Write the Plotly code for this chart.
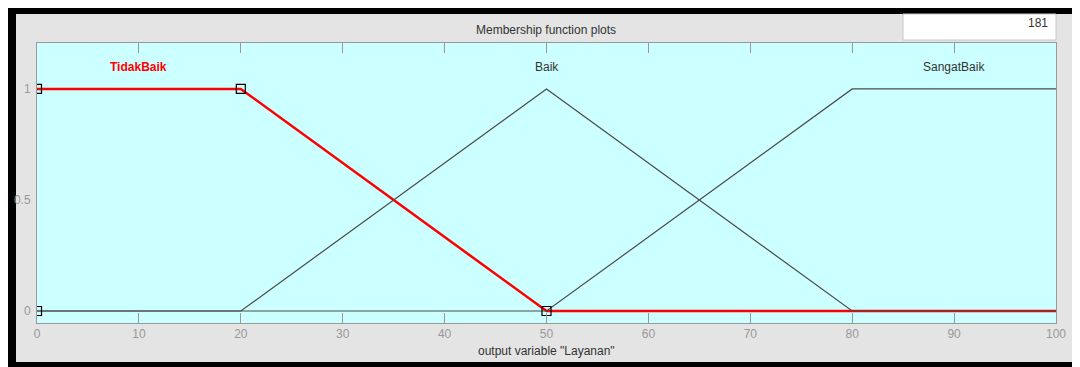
import plotly.graph_objects as go

# --- data ---
x_tidak = [0, 20, 50, 100]
y_tidak = [1, 1, 0, 0]
x_baik = [0, 20, 50, 80, 100]
y_baik = [0, 0, 1, 0, 0]
x_sangat = [0, 50, 80, 100]
y_sangat = [0, 0, 1, 1]
x_handles = [0, 0, 20, 50]
y_handles = [0, 1, 1, 0]
mf_names = ["TidakBaik", "Baik", "SangatBaik"]
mf_label_x = [10, 50, 90]
x_ticks = [0, 10, 20, 30, 40, 50, 60, 70, 80, 90, 100]
y_ticks = [0, 0.5, 1]
y_tick_text = ["0", "0.5", "1"]
plot_points = "181"

# page body has an 8px margin, so the figure is drawn 8px in from the corner
O = 8
W, H = 1080 - O, 367 - O
L, R, T, B = 37, 1056, 43, 323   # plot area in screen pixels

def px(x):
    return (x - L) / (R - L)

def py(y):
    return (B - y) / (B - T)

fig = go.Figure()

fig.add_trace(go.Scatter(x=x_tidak, y=y_tidak, mode="lines",
                         line=dict(color="#ff0000", width=2.5), hoverinfo="skip"))
fig.add_trace(go.Scatter(x=x_baik, y=y_baik, mode="lines",
                         line=dict(color="#4a4a4a", width=1.2), hoverinfo="skip"))
fig.add_trace(go.Scatter(x=x_sangat, y=y_sangat, mode="lines",
                         line=dict(color="#4a4a4a", width=1.2), hoverinfo="skip"))
fig.add_trace(go.Scatter(x=x_handles, y=y_handles, mode="markers",
                         marker=dict(symbol="square-open", size=9, color="#000000",
                                     line=dict(width=1.2)), hoverinfo="skip"))

font = "Liberation Sans, Arial, sans-serif"

shapes = [
    # black outer frame
    dict(type="rect", xref="paper", yref="paper", layer="below",
         x0=px(8), x1=px(1082), y0=py(369), y1=py(7),
         fillcolor="#000000", line=dict(width=0)),
    # grey panel
    dict(type="rect", xref="paper", yref="paper", layer="below",
         x0=px(16), x1=px(1074), y0=py(362), y1=py(14),
         fillcolor="#e4e4e4", line=dict(width=0)),
    # cyan axes area
    dict(type="rect", xref="paper", yref="paper", layer="below",
         x0=0, x1=1, y0=0, y1=1,
         fillcolor="#ccffff", line=dict(width=0)),
    # plot points box
    dict(type="rect", xref="paper", yref="paper", layer="below",
         x0=px(903), x1=px(1056), y0=py(40), y1=py(14),
         fillcolor="#ffffff", line=dict(color="#c8c8c8", width=1)),
]

annotations = [
    dict(text="Membership function plots", x=px(546), y=py(30), xref="paper", yref="paper",
         yanchor="middle", showarrow=False, font=dict(size=12, color="#333333", family=font)),
    dict(text='output variable "Layanan"', x=px(546), y=py(351), xref="paper", yref="paper",
         yanchor="middle", showarrow=False, font=dict(size=12, color="#333333", family=font)),
    dict(text=plot_points, x=px(1050), y=py(23), xref="paper", yref="paper",
         xanchor="right", yanchor="middle", showarrow=False,
         font=dict(size=12, color="#333333", family=font)),
]
for i, name in enumerate(mf_names):
    annotations.append(dict(
        text=f"<b>{name}</b>" if i == 0 else name,
        x=mf_label_x[i], y=py(67), xref="x", yref="paper", yanchor="middle", showarrow=False,
        font=dict(size=12, color="#ff0000" if i == 0 else "#333333", family=font)))

fig.update_layout(
    width=W, height=H,
    margin=dict(l=L - O, r=1080 - R, t=T - O, b=367 - B),
    paper_bgcolor="#ffffff",
    plot_bgcolor="rgba(0,0,0,0)",
    showlegend=False,
    shapes=shapes,
    annotations=annotations,
    font=dict(family=font, size=12, color="#999999"),
    xaxis=dict(range=[0, 100], tickvals=x_ticks, ticks="inside", ticklen=10,
               tickcolor="#999999", showgrid=False, zeroline=False, automargin=False,
               showline=True, linecolor="#999999", mirror="ticks",
               tickfont=dict(size=12, color="#999999")),
    yaxis=dict(range=[-0.054, 1.207], tickvals=y_ticks, ticktext=y_tick_text,
               ticks="", showgrid=False, zeroline=False, automargin=False,
               ticklabelstandoff=3,
               showline=True, linecolor="#999999", mirror=True,
               tickfont=dict(size=12, color="#999999")),
)

fig.write_html("out.html", config={"displayModeBar": False})
